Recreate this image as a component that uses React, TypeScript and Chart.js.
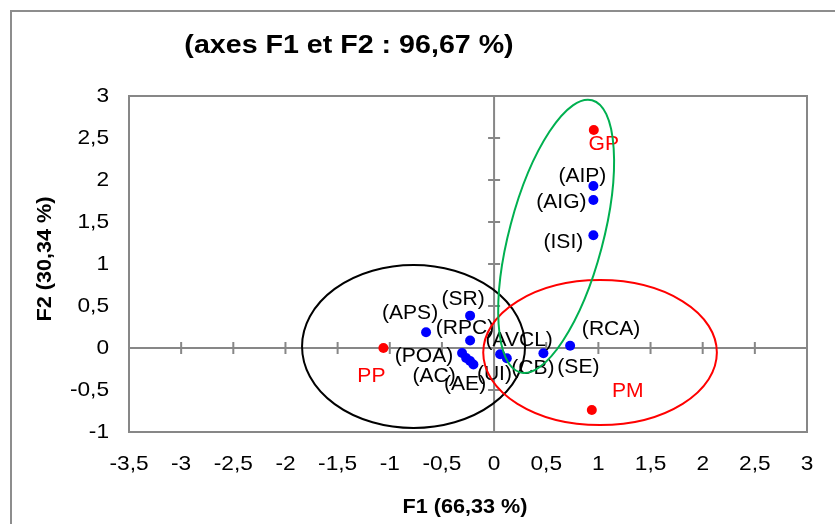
import React, { useEffect, useRef } from "react";
import { Chart, registerables } from "chart.js";

Chart.register(...registerables);

// ---- data ----
const pointNames = ["GP", "(AIP)", "(AIG)", "(ISI)", "PP", "PM", "(APS)", "(SR)", "(RPC)", "(POA)", "(AC)", "(AE)", "(UI)", "(AVCL)", "(CB)", "(SE)", "(RCA)"];
const f1Values = [0.956, 0.952, 0.952, 0.952, -1.061, 0.937, -0.652, -0.23, -0.23, -0.307, -0.268, -0.23, -0.198, 0.058, 0.122, 0.473, 0.729];
const f2Values = [2.595, 1.929, 1.762, 1.342, 0.0, -0.738, 0.187, 0.385, 0.089, -0.06, -0.119, -0.155, -0.196, -0.075, -0.123, -0.063, 0.027];
const isObservation = [true, false, false, false, true, true, false, false, false, false, false, false, false, false, false, false, false];

const xTickValues = [-3.5, -3, -2.5, -2, -1.5, -1, -0.5, 0, 0.5, 1, 1.5, 2, 2.5, 3];
const xTickLabels = ["-3,5", "-3", "-2,5", "-2", "-1,5", "-1", "-0,5", "0", "0,5", "1", "1,5", "2", "2,5", "3"];
const yTickValues = [-1, -0.5, 0, 0.5, 1, 1.5, 2, 2.5, 3];
const yTickLabels = ["-1", "-0,5", "0", "0,5", "1", "1,5", "2", "2,5", "3"];

const titleText = "(axes F1 et F2 : 96,67 %)";
const xAxisTitle = "F1 (66,33 %)";
const yAxisTitle = "F2 (30,34 %)";

// ---- styles (label offsets in px, relative to the point) ----
const labelDx = [10, -11, -32, -30, -12, 36, -16, -7, -5, -38, -32, -5, 21, 19, 26, 35, 41];
const labelDy = [15, -9, 3, 7, 29, -18, -19, -16, -12, 4, 19, 24, 10, -14, 10, 14, -16];

// group ellipses (data units)
const blackEllipse = { cx: -0.772, cy: 0.018, rx: 1.069, ry: 0.97 };
const redEllipse = { cx: 1.016, cy: -0.054, rx: 1.12, ry: 0.863 };
const greenEllipse = { x1: 0.25, y1: -0.29, x2: 0.94, y2: 2.95, halfWidth: 0.45 };

const FONT = '"Liberation Sans", Arial, sans-serif';
const SX = 1.08;
const AXIS_GRAY = "#878787";

function drawText(ctx: CanvasRenderingContext2D, text: string, x: number, y: number, size: number, bold: boolean, color: string, align: CanvasTextAlign = "center", rotate = 0) {
  ctx.save();
  ctx.translate(x, y);
  if (rotate) ctx.rotate(rotate);
  ctx.scale(SX, 1);
  ctx.font = `${bold ? "bold " : ""}${size}px ${FONT}`;
  ctx.fillStyle = color;
  ctx.textAlign = align;
  ctx.textBaseline = "middle";
  ctx.fillText(text, 0, 0);
  ctx.restore();
}

function seg(ctx: CanvasRenderingContext2D, x1: number, y1: number, x2: number, y2: number) {
  ctx.beginPath();
  ctx.moveTo(x1, y1);
  ctx.lineTo(x2, y2);
  ctx.stroke();
}

const decorPlugin = {
  id: "decor",
  beforeDraw(chart: any) {
    const { ctx, chartArea: ca } = chart;
    const xs = chart.scales.x;
    const ys = chart.scales.y;
    ctx.save();
    ctx.fillStyle = "#ffffff";
    ctx.fillRect(0, 0, chart.width, chart.height);
    // outer border
    ctx.strokeStyle = "#8d8d8d";
    ctx.lineWidth = 2;
    ctx.strokeRect(11, 11, chart.width + 20, chart.height + 20);
    // plot frame
    ctx.strokeStyle = AXIS_GRAY;
    ctx.lineWidth = 2;
    ctx.strokeRect(ca.left, ca.top, ca.right - ca.left, ca.bottom - ca.top);
    // axes through origin
    const x0 = xs.getPixelForValue(0);
    const y0 = ys.getPixelForValue(0);
    seg(ctx, ca.left, y0, ca.right, y0);
    seg(ctx, x0, ca.top, x0, ca.bottom);
    xTickValues.forEach((v) => {
      const px = xs.getPixelForValue(v);
      seg(ctx, px, y0 - 6, px, y0 + 6);
    });
    yTickValues.forEach((v) => {
      const py = ys.getPixelForValue(v);
      seg(ctx, x0 - 6, py, x0 + 6, py);
    });
    // tick labels
    xTickValues.forEach((v, i) => {
      drawText(ctx, xTickLabels[i], xs.getPixelForValue(v), ca.bottom + 32, 21, false, "#000");
    });
    yTickValues.forEach((v, i) => {
      drawText(ctx, yTickLabels[i], ca.left - 20, ys.getPixelForValue(v), 21, false, "#000", "right");
    });
    // titles
    drawText(ctx, titleText, 349, 46, 26.5, true, "#000");
    drawText(ctx, xAxisTitle, (ca.left + ca.right) / 2 - 3, 507, 20, true, "#000");
    drawText(ctx, yAxisTitle, 45, (ca.top + ca.bottom) / 2 - 5, 20, true, "#000", "center", -Math.PI / 2);
    ctx.restore();
  },
  afterDatasetsDraw(chart: any) {
    const { ctx } = chart;
    const xs = chart.scales.x;
    const ys = chart.scales.y;
    ctx.save();
    // point labels
    pointNames.forEach((name, i) => {
      const px = xs.getPixelForValue(f1Values[i]);
      const py = ys.getPixelForValue(f2Values[i]);
      drawText(ctx, name, px + labelDx[i], py + labelDy[i], 19.5, false, isObservation[i] ? "#ff0000" : "#000000");
    });
    // ellipses
    ctx.lineWidth = 2;
    const axisEllipse = (e: any, color: string) => {
      const cx = xs.getPixelForValue(e.cx);
      const cy = ys.getPixelForValue(e.cy);
      const rx = Math.abs(xs.getPixelForValue(e.cx + e.rx) - cx);
      const ry = Math.abs(ys.getPixelForValue(e.cy + e.ry) - cy);
      ctx.strokeStyle = color;
      ctx.beginPath();
      ctx.ellipse(cx, cy, rx, ry, 0, 0, Math.PI * 2);
      ctx.stroke();
    };
    axisEllipse(blackEllipse, "#000000");
    axisEllipse(redEllipse, "#ff0000");
    {
      const p1x = xs.getPixelForValue(greenEllipse.x1);
      const p1y = ys.getPixelForValue(greenEllipse.y1);
      const p2x = xs.getPixelForValue(greenEllipse.x2);
      const p2y = ys.getPixelForValue(greenEllipse.y2);
      const cx = (p1x + p2x) / 2;
      const cy = (p1y + p2y) / 2;
      const a = Math.hypot(p2x - p1x, p2y - p1y) / 2;
      const b = Math.abs(xs.getPixelForValue(greenEllipse.halfWidth) - xs.getPixelForValue(0));
      const ang = Math.atan2(p2y - p1y, p2x - p1x);
      ctx.strokeStyle = "#00b050";
      ctx.beginPath();
      ctx.ellipse(cx, cy, a, b, ang, 0, Math.PI * 2);
      ctx.stroke();
    }
    ctx.restore();
  },
};

export default function App() {
  const canvasRef = useRef<HTMLCanvasElement | null>(null);

  useEffect(() => {
    document.body.style.margin = "0";
    const canvas = canvasRef.current;
    if (!canvas) return;
    const pts = pointNames.map((_, i) => ({ x: f1Values[i], y: f2Values[i] }));
    const chart = new Chart(canvas, {
      type: "scatter",
      data: {
        datasets: [
          {
            label: "points",
            data: pts,
            pointRadius: 5,
            pointHoverRadius: 5,
            pointBackgroundColor: isObservation.map((o) => (o ? "#ff0000" : "#0000ff")),
            pointBorderColor: isObservation.map((o) => (o ? "#ff0000" : "#0000ff")),
            pointBorderWidth: 0,
          },
        ],
      },
      options: {
        responsive: false,
        animation: false,
        devicePixelRatio: 1,
        events: [],
        layout: { padding: { left: 129, top: 96, right: 28, bottom: 92 } },
        plugins: { legend: { display: false }, tooltip: { enabled: false }, title: { display: false } },
        scales: {
          x: { type: "linear", min: -3.5, max: 3, display: false },
          y: { type: "linear", min: -1, max: 3, display: false },
        },
      },
      plugins: [decorPlugin],
    });
    return () => chart.destroy();
  }, []);

  return (
    <div style={{ width: 835, height: 524, overflow: "hidden" }}>
      <canvas ref={canvasRef} width={835} height={524} style={{ display: "block" }} />
    </div>
  );
}
